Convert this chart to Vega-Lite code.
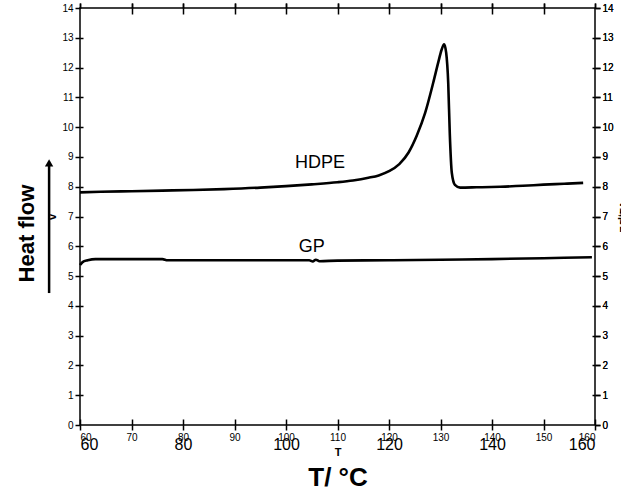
{
  "$schema": "https://vega.github.io/schema/vega-lite/v6.json",
  "width": 515,
  "height": 417,
  "autosize": "none",
  "padding": {"left": 80, "top": 8, "right": 26, "bottom": 68},
  "background": "white",
  "config": {
    "font": "Liberation Sans",
    "view": {"stroke": "black", "strokeWidth": 1.5},
    "axis": {"grid": false, "domain": false, "tickColor": "black", "tickWidth": 1.5, "labelColor": "black", "titleColor": "black", "labelFont": "Liberation Sans", "titleFont": "Liberation Sans"}
  },
  "datasets": {
    "curves": [
      {"sample": "HDPE", "T": 60, "v": 7.81},
      {"sample": "HDPE", "T": 64, "v": 7.83},
      {"sample": "HDPE", "T": 70, "v": 7.85},
      {"sample": "HDPE", "T": 76, "v": 7.87},
      {"sample": "HDPE", "T": 82, "v": 7.89},
      {"sample": "HDPE", "T": 88, "v": 7.92},
      {"sample": "HDPE", "T": 95, "v": 7.97},
      {"sample": "HDPE", "T": 100, "v": 8.02},
      {"sample": "HDPE", "T": 105, "v": 8.08},
      {"sample": "HDPE", "T": 110, "v": 8.15},
      {"sample": "HDPE", "T": 113, "v": 8.21},
      {"sample": "HDPE", "T": 116, "v": 8.3},
      {"sample": "HDPE", "T": 118, "v": 8.38},
      {"sample": "HDPE", "T": 120, "v": 8.52},
      {"sample": "HDPE", "T": 122, "v": 8.76},
      {"sample": "HDPE", "T": 123.8, "v": 9.15},
      {"sample": "HDPE", "T": 125.4, "v": 9.72},
      {"sample": "HDPE", "T": 127, "v": 10.47},
      {"sample": "HDPE", "T": 128.6, "v": 11.5},
      {"sample": "HDPE", "T": 129.6, "v": 12.2},
      {"sample": "HDPE", "T": 130.2, "v": 12.59},
      {"sample": "HDPE", "T": 130.7, "v": 12.78},
      {"sample": "HDPE", "T": 131.1, "v": 12.5},
      {"sample": "HDPE", "T": 131.5, "v": 11.48},
      {"sample": "HDPE", "T": 131.8, "v": 9.8},
      {"sample": "HDPE", "T": 132.2, "v": 8.46},
      {"sample": "HDPE", "T": 132.8, "v": 8.06},
      {"sample": "HDPE", "T": 133.8, "v": 7.97},
      {"sample": "HDPE", "T": 137, "v": 7.98},
      {"sample": "HDPE", "T": 141.6, "v": 8.0},
      {"sample": "HDPE", "T": 146, "v": 8.03},
      {"sample": "HDPE", "T": 150, "v": 8.07},
      {"sample": "HDPE", "T": 154, "v": 8.1},
      {"sample": "HDPE", "T": 157.7, "v": 8.13},
      {"sample": "GP", "T": 60, "v": 5.37},
      {"sample": "GP", "T": 60.5, "v": 5.47},
      {"sample": "GP", "T": 61.5, "v": 5.53},
      {"sample": "GP", "T": 63, "v": 5.57},
      {"sample": "GP", "T": 70, "v": 5.57},
      {"sample": "GP", "T": 76, "v": 5.57},
      {"sample": "GP", "T": 77, "v": 5.53},
      {"sample": "GP", "T": 90, "v": 5.53},
      {"sample": "GP", "T": 100, "v": 5.53},
      {"sample": "GP", "T": 104.5, "v": 5.53},
      {"sample": "GP", "T": 105.2, "v": 5.49},
      {"sample": "GP", "T": 105.8, "v": 5.55},
      {"sample": "GP", "T": 106.5, "v": 5.5},
      {"sample": "GP", "T": 110, "v": 5.52},
      {"sample": "GP", "T": 120, "v": 5.53},
      {"sample": "GP", "T": 130, "v": 5.55},
      {"sample": "GP", "T": 140, "v": 5.57},
      {"sample": "GP", "T": 150, "v": 5.6},
      {"sample": "GP", "T": 159.4, "v": 5.63}
    ],
    "labels": [
      {"label": "HDPE", "T": 106.6, "v": 8.8},
      {"label": "GP", "T": 105, "v": 5.98}
    ],
    "arrow": [
      {"T": 54, "v1": 4.43, "v2": 8.7, "tip": 8.8}
    ]
  },
  "layer": [
    {
      "data": {"name": "curves"},
      "mark": {"type": "line", "color": "black", "strokeWidth": 2.6, "interpolate": "monotone"},
      "encoding": {
        "x": {"field": "T", "type": "quantitative", "scale": {"domain": [60, 160], "nice": false},
          "axis": {"orient": "bottom", "values": [60, 70, 80, 90, 100, 110, 120, 130, 140, 150, 160], "tickSize": -6,
            "labelExpr": "datum.value % 20 === 0 ? datum.label : ''",
            "labelFontSize": 16, "labelPadding": 17, "title": "T/ °C", "titleFontSize": 26, "titleFontWeight": "bold", "titlePadding": 12}},
        "y": {"field": "v", "type": "quantitative", "scale": {"domain": [0, 14], "nice": false},
          "axis": {"orient": "left", "values": [1, 2, 3, 4, 5, 6, 7, 8, 9, 10, 11, 12, 13], "tickSize": -3, "labels": false, "title": "Heat flow", "titleFontSize": 22, "titleFontWeight": "bold", "titleAngle": -90, "titleAlign": "center", "titleBaseline": "middle", "titleX": -54, "titleY": 225}},
        "detail": {"field": "sample"}
      }
    },
    {
      "data": {"values": [{}]},
      "mark": {"type": "rule", "opacity": 0},
      "encoding": {
        "x": {"datum": 60, "type": "quantitative", "axis": {"orient": "top", "values": [70, 80, 90, 100, 110, 120, 130, 140, 150], "tickSize": -6, "labels": false, "title": null}},
        "y": {"datum": 0, "type": "quantitative", "axis": {"orient": "right", "values": [1, 2, 3, 4, 5, 6, 7, 8, 9, 10, 11, 12, 13], "tickSize": -3, "labels": false, "title": null}}
      }
    },
    {
      "data": {"name": "labels"},
      "mark": {"type": "text", "fontSize": 18, "color": "black", "font": "Liberation Sans"},
      "encoding": {
        "x": {"field": "T", "type": "quantitative"},
        "y": {"field": "v", "type": "quantitative"},
        "text": {"field": "label"}
      }
    },
    {
      "data": {"name": "arrow"},
      "mark": {"type": "rule", "color": "black", "strokeWidth": 2.5, "clip": false},
      "encoding": {
        "x": {"field": "T", "type": "quantitative"},
        "y": {"field": "v1", "type": "quantitative"},
        "y2": {"field": "v2"}
      }
    },
    {
      "data": {"name": "arrow"},
      "mark": {"type": "point", "shape": "triangle-up", "filled": true, "color": "black", "size": 70, "opacity": 1, "clip": false},
      "encoding": {
        "x": {"field": "T", "type": "quantitative"},
        "y": {"field": "tip", "type": "quantitative"}
      }
    }
  ]
}
